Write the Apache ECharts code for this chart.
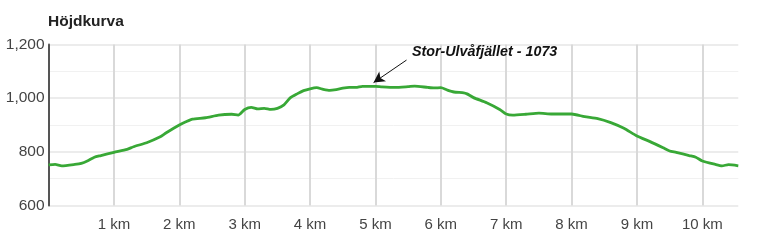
<!DOCTYPE html>
<html>
<head>
<meta charset="utf-8">
<script src="https://cdn.jsdelivr.net/npm/echarts@6/dist/echarts.min.js"></script>
<style>
html,body{margin:0;padding:0;background:#fff;}
#chart{width:764px;height:243px;}
</style>
</head>
<body>
<div id="chart"></div>
<script>
const chartTitle = 'Höjdkurva';
const distanceKm = [0, 0.1, 0.2, 0.4, 0.5, 0.6, 0.7, 0.8, 1.0, 1.2, 1.3, 1.5, 1.7, 1.8, 2.0, 2.1, 2.2, 2.4, 2.6, 2.8, 2.9, 3.0, 3.1, 3.2, 3.3, 3.4, 3.5, 3.6, 3.7, 3.8, 3.9, 4.0, 4.1, 4.2, 4.3, 4.4, 4.5, 4.6, 4.7, 4.8, 5.0, 5.1, 5.3, 5.5, 5.6, 5.8, 5.9, 6.0, 6.1, 6.2, 6.35, 6.4, 6.5, 6.7, 6.9, 7.0, 7.1, 7.3, 7.5, 7.7, 8.0, 8.2, 8.4, 8.6, 8.8, 9.0, 9.2, 9.4, 9.5, 9.6, 9.8, 9.9, 10.0, 10.2, 10.3, 10.4, 10.55];
const elevation = [751, 753, 748, 753, 757, 767, 780, 786, 798, 809, 819, 834, 855, 871, 900, 912, 922, 927, 937, 940, 937, 958, 966, 960, 962, 958, 962, 975, 1002, 1016, 1028, 1035, 1039, 1033, 1029, 1032, 1037, 1040, 1040, 1044, 1044, 1042, 1040, 1043, 1045, 1040, 1038, 1039, 1030, 1023, 1020, 1016, 1002, 983, 958, 941, 937, 940, 944, 941, 941, 931, 924, 909, 888, 859, 838, 815, 803, 798, 786, 780, 766, 753, 748, 752, 748];
const xTickUnit = ' km';
const peakName = 'Stor-Ulvåfjället - 1073';
const arrowFrom = [5.475, 1142];
const arrowTo = [4.971, 1058];
const peakLabelAt = [5.557, 1172];

const chart = echarts.init(document.getElementById('chart'), null, {renderer: 'canvas'});
const font = 'Liberation Sans, Arial, sans-serif';
chart.setOption({
  animation: false,
  title: {
    text: chartTitle, left: 43, top: 9,
    textStyle: {fontFamily: font, fontSize: 15.5, fontWeight: 'bold', color: '#222'}
  },
  grid: {left: 48.6, right: 25.7, top: 44.5, bottom: 37.5, containLabel: false},
  xAxis: {
    type: 'value', min: 0, max: 10.55, interval: 1,
    axisLine: {show: false},
    axisTick: {show: false},
    splitLine: {show: true, showMinLine: false, showMaxLine: false, lineStyle: {color: '#d9d9d9', width: 2}},
    axisLabel: {
      showMinLabel: false, showMaxLabel: false,
      formatter: v => (v === 0 ? '' : v + xTickUnit),
      fontFamily: font, fontSize: 15, color: '#444', margin: 12
    }
  },
  yAxis: {
    type: 'value', min: 600, max: 1200, interval: 200,
    axisLine: {show: true, lineStyle: {color: '#555', width: 2}},
    axisTick: {show: false},
    splitLine: {show: true, lineStyle: {color: '#e6e6e6', width: 1.5}},
    minorTick: {show: false, splitNumber: 2},
    minorSplitLine: {show: true, lineStyle: {color: '#f1f1f1', width: 1}},
    axisLabel: {
      formatter: v => v.toLocaleString('en-US'),
      fontFamily: font, fontSize: 15.5, color: '#444', margin: 4
    }
  },
  series: [{
    type: 'line',
    data: distanceKm.map((d, i) => [d, elevation[i]]),
    showSymbol: false,
    smooth: 0.2,
    lineStyle: {color: '#38a836', width: 2.8},
    itemStyle: {color: '#38a836'},
    markLine: {
      silent: true,
      symbol: ['none', 'arrow'],
      symbolSize: [9, 11],
      label: {show: false},
      lineStyle: {color: '#111', width: 1, type: 'solid'},
      data: [[{coord: arrowFrom}, {coord: arrowTo}]]
    },
    markPoint: {
      silent: true,
      symbol: 'circle', symbolSize: 0,
      data: [{coord: peakLabelAt, value: peakName}],
      label: {
        show: true, position: 'right', distance: 0,
        formatter: peakName,
        fontFamily: font, fontSize: 14.3, fontWeight: 'bold', fontStyle: 'italic', color: '#111'
      }
    }
  }]
});
</script>
</body>
</html>
